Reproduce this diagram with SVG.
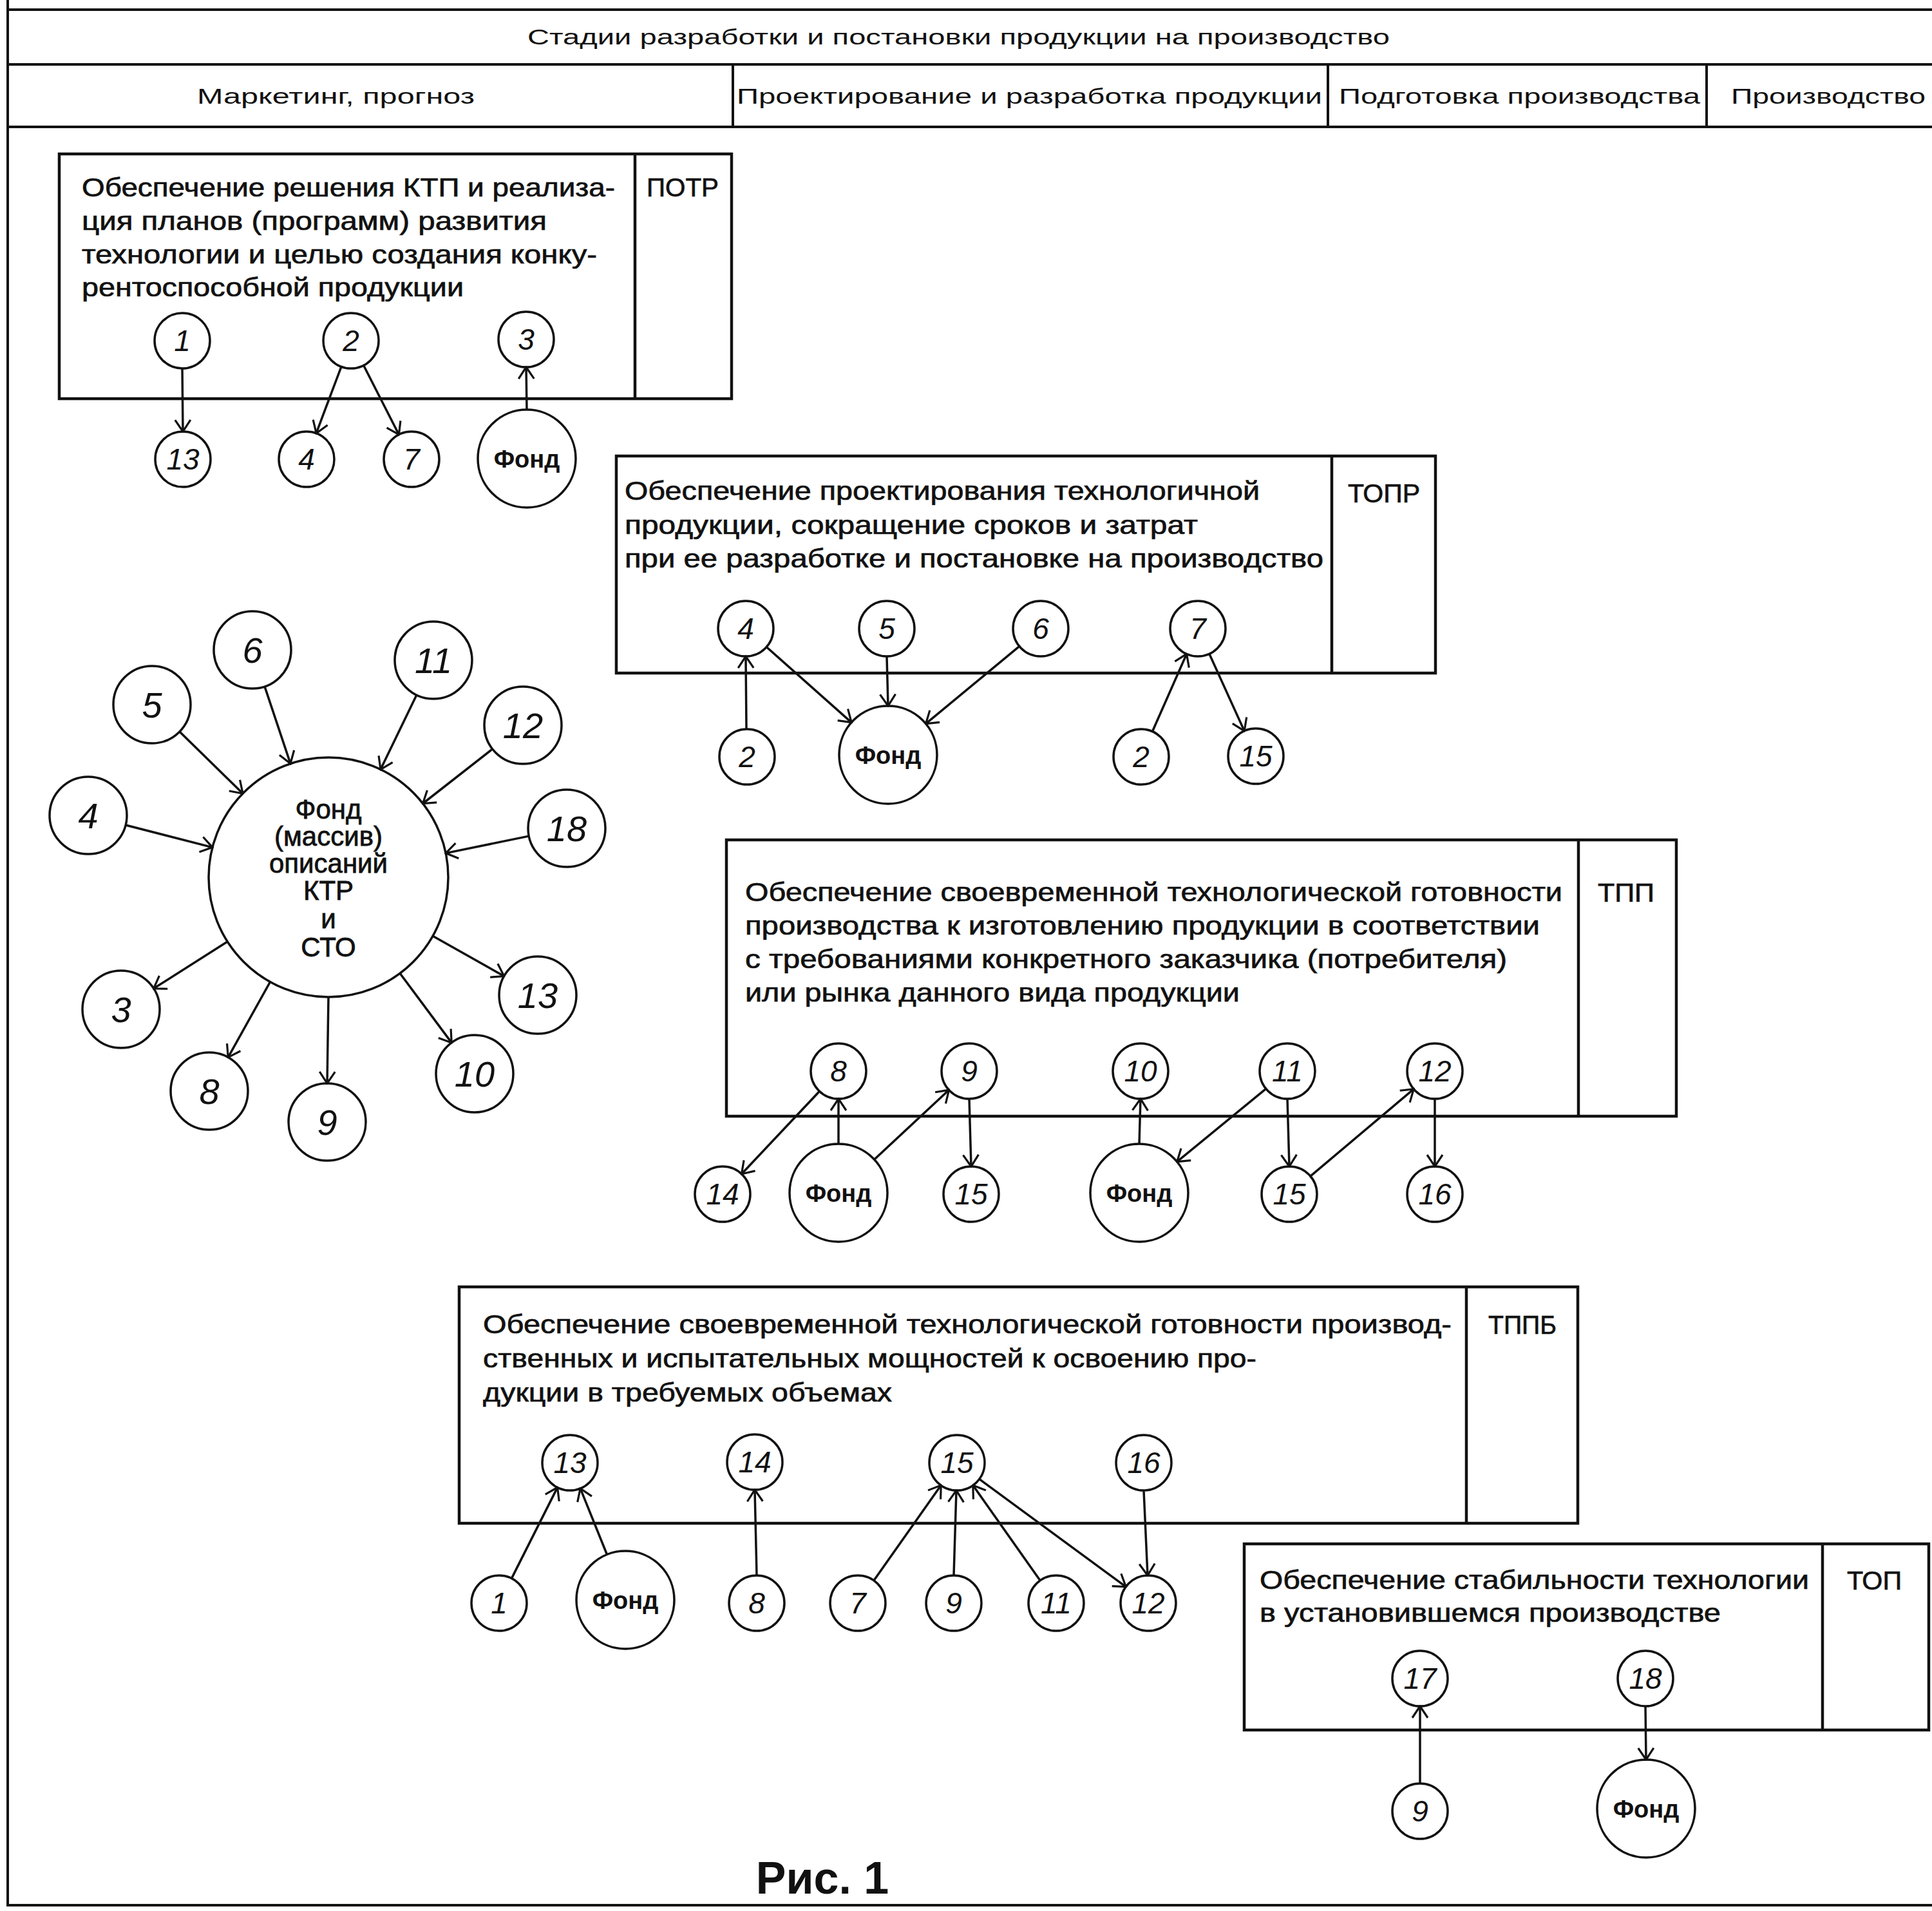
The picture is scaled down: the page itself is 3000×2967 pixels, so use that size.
<svg xmlns="http://www.w3.org/2000/svg" width="3000" height="2967" viewBox="0 0 3000 2967">
<defs>
<style>
.fr{stroke:#111;stroke-width:4;fill:none}
.bx{stroke:#111;stroke-width:4.5;fill:none}
.nd{stroke:#111;stroke-width:3.5;fill:#fff}
.ln{stroke:#111;stroke-width:3.5;fill:none}
.t{font-family:"Liberation Sans",Arial,sans-serif;font-size:40px;fill:#111;stroke:#111;stroke-width:0.7}
.h{font-family:"Liberation Sans",Arial,sans-serif;font-size:34px;fill:#111}
.lb{font-family:"Liberation Sans",Arial,sans-serif;font-size:40px;fill:#111;stroke:#111;stroke-width:0.7}
.n{font-family:"Liberation Sans",Arial,sans-serif;font-style:italic;font-size:46px;text-anchor:middle;fill:#111}
.ns{font-family:"Liberation Sans",Arial,sans-serif;font-style:italic;font-size:56px;text-anchor:middle;fill:#111}
.f{font-family:"Liberation Sans",Arial,sans-serif;font-weight:bold;font-size:38px;text-anchor:middle;fill:#111}
.bf{font-family:"Liberation Sans",Arial,sans-serif;font-size:42px;text-anchor:middle;fill:#111;stroke:#111;stroke-width:0.8}
</style>
<marker id="arr" viewBox="0 0 14 14" refX="13" refY="7" markerWidth="28" markerHeight="28" markerUnits="userSpaceOnUse" orient="auto">
<path d="M4,1 L13,7 L4,13" fill="none" stroke="#111" stroke-width="1.6"/>
</marker>
</defs>
<rect width="3000" height="2967" fill="#fff"/>

<g id="frame">
<line class="fr" x1="12" y1="0" x2="12" y2="2960"/>
<line class="fr" x1="12" y1="15" x2="3000" y2="15"/>
<line class="fr" x1="12" y1="100" x2="3000" y2="100"/>
<line class="fr" x1="12" y1="197" x2="3000" y2="197"/>
<line class="fr" x1="1138" y1="100" x2="1138" y2="197"/>
<line class="fr" x1="2062" y1="100" x2="2062" y2="197"/>
<line class="fr" x1="2650" y1="100" x2="2650" y2="197"/>
<line class="fr" x1="12" y1="2958" x2="3000" y2="2958"/>
<text class="h" x="819" y="69" textLength="1339" lengthAdjust="spacingAndGlyphs">Стадии разработки и постановки продукции на производство</text>
<text class="h" x="306" y="161" textLength="431" lengthAdjust="spacingAndGlyphs">Маркетинг, прогноз</text>
<text class="h" x="1144" y="161" textLength="909" lengthAdjust="spacingAndGlyphs">Проектирование и разработка продукции</text>
<text class="h" x="2079" y="161" textLength="561" lengthAdjust="spacingAndGlyphs">Подготовка производства</text>
<text class="h" x="2688" y="161" textLength="302" lengthAdjust="spacingAndGlyphs">Производство</text>
</g>

<g id="box-POTR">
<rect class="bx" x="92" y="239" width="1044" height="380"/>
<line class="bx" x1="986" y1="239" x2="986" y2="619"/>
<text class="lb" x="1004" y="305" textLength="112" lengthAdjust="spacingAndGlyphs">ПОТР</text>
<text class="t" x="127" y="305" textLength="828" lengthAdjust="spacingAndGlyphs">Обеспечение решения КТП и реализа-</text>
<text class="t" x="127" y="357" textLength="722" lengthAdjust="spacingAndGlyphs">ция планов (программ) развития</text>
<text class="t" x="127" y="409" textLength="800" lengthAdjust="spacingAndGlyphs">технологии и целью создания конку-</text>
<text class="t" x="127" y="460" textLength="593" lengthAdjust="spacingAndGlyphs">рентоспособной продукции</text>
</g>
<g id="p1-n1"><circle class="nd" cx="283" cy="529" r="43"/><text class="n" x="283" y="545">1</text></g>
<g id="p1-n2"><circle class="nd" cx="545" cy="529" r="43"/><text class="n" x="545" y="545">2</text></g>
<g id="p1-n3"><circle class="nd" cx="817" cy="527" r="43"/><text class="n" x="817" y="543">3</text></g>
<g id="p1-n13"><circle class="nd" cx="284" cy="713" r="43"/><text class="n" x="284" y="729">13</text></g>
<g id="p1-n4"><circle class="nd" cx="476" cy="713" r="43"/><text class="n" x="476" y="729">4</text></g>
<g id="p1-n7"><circle class="nd" cx="639" cy="713" r="43"/><text class="n" x="639" y="729">7</text></g>
<g id="p1-fond"><circle class="nd" cx="818" cy="712" r="76"/><text class="f" x="818" y="726">Фонд</text></g>

<g id="box-TOPR">
<rect class="bx" x="957" y="708" width="1272" height="337"/>
<line class="bx" x1="2068" y1="708" x2="2068" y2="1045"/>
<text class="lb" x="2093" y="780" textLength="112" lengthAdjust="spacingAndGlyphs">ТОПР</text>
<text class="t" x="970" y="776" textLength="986" lengthAdjust="spacingAndGlyphs">Обеспечение проектирования технологичной</text>
<text class="t" x="970" y="829" textLength="890" lengthAdjust="spacingAndGlyphs">продукции, сокращение сроков и затрат</text>
<text class="t" x="970" y="881" textLength="1085" lengthAdjust="spacingAndGlyphs">при ее разработке и постановке на производство</text>
</g>
<g id="p2-n4"><circle class="nd" cx="1158" cy="976" r="43"/><text class="n" x="1158" y="992">4</text></g>
<g id="p2-n5"><circle class="nd" cx="1377" cy="976" r="43"/><text class="n" x="1377" y="992">5</text></g>
<g id="p2-n6"><circle class="nd" cx="1616" cy="976" r="43"/><text class="n" x="1616" y="992">6</text></g>
<g id="p2-n7"><circle class="nd" cx="1860" cy="976" r="43"/><text class="n" x="1860" y="992">7</text></g>
<g id="p2-n2a"><circle class="nd" cx="1160" cy="1175" r="43"/><text class="n" x="1160" y="1191">2</text></g>
<g id="p2-fond"><circle class="nd" cx="1379" cy="1172" r="76"/><text class="f" x="1379" y="1186">Фонд</text></g>
<g id="p2-n2b"><circle class="nd" cx="1772" cy="1175" r="43"/><text class="n" x="1772" y="1191">2</text></g>
<g id="p2-n15"><circle class="nd" cx="1950" cy="1174" r="43"/><text class="n" x="1950" y="1190">15</text></g>

<g id="fond-main">
<circle class="nd" cx="510" cy="1362" r="186"/>
<text class="bf" x="510" y="1271">Фонд</text>
<text class="bf" x="510" y="1313">(массив)</text>
<text class="bf" x="510" y="1355">описаний</text>
<text class="bf" x="510" y="1397">КТР</text>
<text class="bf" x="510" y="1441">и</text>
<text class="bf" x="510" y="1485">СТО</text>
</g>
<g id="s-n6"><circle class="nd" cx="392" cy="1009" r="60"/><text class="ns" x="392" y="1029">6</text></g>
<g id="s-n11"><circle class="nd" cx="673" cy="1025" r="60"/><text class="ns" x="673" y="1045">11</text></g>
<g id="s-n5"><circle class="nd" cx="236" cy="1094" r="60"/><text class="ns" x="236" y="1114">5</text></g>
<g id="s-n12"><circle class="nd" cx="812" cy="1126" r="60"/><text class="ns" x="812" y="1146">12</text></g>
<g id="s-n4"><circle class="nd" cx="137" cy="1266" r="60"/><text class="ns" x="137" y="1286">4</text></g>
<g id="s-n18"><circle class="nd" cx="880" cy="1286" r="60"/><text class="ns" x="880" y="1306">18</text></g>
<g id="s-n3"><circle class="nd" cx="188" cy="1567" r="60"/><text class="ns" x="188" y="1587">3</text></g>
<g id="s-n13"><circle class="nd" cx="835" cy="1545" r="60"/><text class="ns" x="835" y="1565">13</text></g>
<g id="s-n8"><circle class="nd" cx="325" cy="1694" r="60"/><text class="ns" x="325" y="1714">8</text></g>
<g id="s-n9"><circle class="nd" cx="508" cy="1742" r="60"/><text class="ns" x="508" y="1762">9</text></g>
<g id="s-n10"><circle class="nd" cx="737" cy="1667" r="60"/><text class="ns" x="737" y="1687">10</text></g>

<g id="box-TPP">
<rect class="bx" x="1128" y="1304" width="1475" height="429"/>
<line class="bx" x1="2451" y1="1304" x2="2451" y2="1733"/>
<text class="lb" x="2481" y="1400" textLength="88" lengthAdjust="spacingAndGlyphs">ТПП</text>
<text class="t" x="1157" y="1399" textLength="1269" lengthAdjust="spacingAndGlyphs">Обеспечение своевременной технологической готовности</text>
<text class="t" x="1157" y="1451" textLength="1234" lengthAdjust="spacingAndGlyphs">производства к изготовлению продукции в соответствии</text>
<text class="t" x="1157" y="1503" textLength="1183" lengthAdjust="spacingAndGlyphs">с требованиями конкретного заказчика (потребителя)</text>
<text class="t" x="1157" y="1555" textLength="768" lengthAdjust="spacingAndGlyphs">или рынка данного вида продукции</text>
</g>
<g id="p3-n8"><circle class="nd" cx="1302" cy="1663" r="43"/><text class="n" x="1302" y="1679">8</text></g>
<g id="p3-n9"><circle class="nd" cx="1505" cy="1663" r="43"/><text class="n" x="1505" y="1679">9</text></g>
<g id="p3-n10"><circle class="nd" cx="1771" cy="1663" r="43"/><text class="n" x="1771" y="1679">10</text></g>
<g id="p3-n11"><circle class="nd" cx="1999" cy="1663" r="43"/><text class="n" x="1999" y="1679">11</text></g>
<g id="p3-n12"><circle class="nd" cx="2228" cy="1663" r="43"/><text class="n" x="2228" y="1679">12</text></g>
<g id="p3-n14"><circle class="nd" cx="1122" cy="1854" r="43"/><text class="n" x="1122" y="1870">14</text></g>
<g id="p3-fond1"><circle class="nd" cx="1302" cy="1852" r="76"/><text class="f" x="1302" y="1866">Фонд</text></g>
<g id="p3-n15a"><circle class="nd" cx="1508" cy="1854" r="43"/><text class="n" x="1508" y="1870">15</text></g>
<g id="p3-fond2"><circle class="nd" cx="1769" cy="1852" r="76"/><text class="f" x="1769" y="1866">Фонд</text></g>
<g id="p3-n15b"><circle class="nd" cx="2002" cy="1854" r="43"/><text class="n" x="2002" y="1870">15</text></g>
<g id="p3-n16"><circle class="nd" cx="2228" cy="1854" r="43"/><text class="n" x="2228" y="1870">16</text></g>

<g id="box-TPPB">
<rect class="bx" x="713" y="1998" width="1737" height="367"/>
<line class="bx" x1="2277" y1="1998" x2="2277" y2="2365"/>
<text class="lb" x="2311" y="2071" textLength="106" lengthAdjust="spacingAndGlyphs">ТППБ</text>
<text class="t" x="750" y="2070" textLength="1504" lengthAdjust="spacingAndGlyphs">Обеспечение своевременной технологической готовности производ-</text>
<text class="t" x="750" y="2123" textLength="1201" lengthAdjust="spacingAndGlyphs">ственных и испытательных мощностей к освоению про-</text>
<text class="t" x="750" y="2176" textLength="635" lengthAdjust="spacingAndGlyphs">дукции в требуемых объемах</text>
</g>
<g id="p4-n13"><circle class="nd" cx="885" cy="2271" r="43"/><text class="n" x="885" y="2287">13</text></g>
<g id="p4-n14"><circle class="nd" cx="1172" cy="2270" r="43"/><text class="n" x="1172" y="2286">14</text></g>
<g id="p4-n15"><circle class="nd" cx="1486" cy="2271" r="43"/><text class="n" x="1486" y="2287">15</text></g>
<g id="p4-n16"><circle class="nd" cx="1776" cy="2271" r="43"/><text class="n" x="1776" y="2287">16</text></g>
<g id="p4-n1"><circle class="nd" cx="775" cy="2489" r="43"/><text class="n" x="775" y="2505">1</text></g>
<g id="p4-fond"><circle class="nd" cx="971" cy="2484" r="76"/><text class="f" x="971" y="2498">Фонд</text></g>
<g id="p4-n8"><circle class="nd" cx="1175" cy="2489" r="43"/><text class="n" x="1175" y="2505">8</text></g>
<g id="p4-n7"><circle class="nd" cx="1332" cy="2489" r="43"/><text class="n" x="1332" y="2505">7</text></g>
<g id="p4-n9"><circle class="nd" cx="1481" cy="2489" r="43"/><text class="n" x="1481" y="2505">9</text></g>
<g id="p4-n11"><circle class="nd" cx="1640" cy="2489" r="43"/><text class="n" x="1640" y="2505">11</text></g>
<g id="p4-n12"><circle class="nd" cx="1783" cy="2489" r="43"/><text class="n" x="1783" y="2505">12</text></g>

<g id="box-TOP">
<rect class="bx" x="1932" y="2397" width="1063" height="289"/>
<line class="bx" x1="2830" y1="2397" x2="2830" y2="2686"/>
<text class="lb" x="2868" y="2468" textLength="85" lengthAdjust="spacingAndGlyphs">ТОП</text>
<text class="t" x="1956" y="2467" textLength="853" lengthAdjust="spacingAndGlyphs">Обеспечение стабильности технологии</text>
<text class="t" x="1956" y="2518" textLength="716" lengthAdjust="spacingAndGlyphs">в установившемся производстве</text>
</g>
<g id="p5-n17"><circle class="nd" cx="2205" cy="2606" r="43"/><text class="n" x="2205" y="2622">17</text></g>
<g id="p5-n18"><circle class="nd" cx="2555" cy="2606" r="43"/><text class="n" x="2555" y="2622">18</text></g>
<g id="p5-n9"><circle class="nd" cx="2205" cy="2812" r="43"/><text class="n" x="2205" y="2828">9</text></g>
<g id="p5-fond"><circle class="nd" cx="2556" cy="2808" r="76"/><text class="f" x="2556" y="2822">Фонд</text></g>

<g id="connectors">
<line class="ln" x1="283" y1="572" x2="284" y2="670" marker-end="url(#arr)"/>
<line class="ln" x1="529.9" y1="569.3" x2="491.1" y2="672.7" marker-end="url(#arr)"/>
<line class="ln" x1="564.6" y1="567.3" x2="619.4" y2="674.7" marker-end="url(#arr)"/>
<line class="ln" x1="818" y1="636" x2="817" y2="570" marker-end="url(#arr)"/>

<line class="ln" x1="1159" y1="1132" x2="1158" y2="1019" marker-end="url(#arr)"/>
<line class="ln" x1="1190.2" y1="1004.5" x2="1322.1" y2="1121.6" marker-end="url(#arr)"/>
<line class="ln" x1="1377" y1="1019" x2="1379" y2="1096" marker-end="url(#arr)"/>
<line class="ln" x1="1582.9" y1="1003.4" x2="1437.6" y2="1123.6" marker-end="url(#arr)"/>
<line class="ln" x1="1789.4" y1="1135.7" x2="1842.6" y2="1015.3" marker-end="url(#arr)"/>
<line class="ln" x1="1877.8" y1="1015.1" x2="1932.2" y2="1134.9" marker-end="url(#arr)"/>

<line class="ln" x1="411" y1="1065.9" x2="451" y2="1185.6" marker-end="url(#arr)"/>
<line class="ln" x1="646.9" y1="1079" x2="591" y2="1194.6" marker-end="url(#arr)"/>
<line class="ln" x1="278.9" y1="1136" x2="377" y2="1232" marker-end="url(#arr)"/>
<line class="ln" x1="764.7" y1="1162.9" x2="656.6" y2="1247.5" marker-end="url(#arr)"/>
<line class="ln" x1="195.1" y1="1281" x2="329.9" y2="1315.6" marker-end="url(#arr)"/>
<line class="ln" x1="821.2" y1="1298.1" x2="692.2" y2="1324.6" marker-end="url(#arr)"/>
<line class="ln" x1="353.1" y1="1461.9" x2="238.6" y2="1534.8" marker-end="url(#arr)"/>
<line class="ln" x1="672.1" y1="1453.3" x2="782.7" y2="1515.6" marker-end="url(#arr)"/>
<line class="ln" x1="419.5" y1="1524.5" x2="354.2" y2="1641.6" marker-end="url(#arr)"/>
<line class="ln" x1="510" y1="1548" x2="508" y2="1682" marker-end="url(#arr)"/>
<line class="ln" x1="621.1" y1="1511.2" x2="701.2" y2="1618.9" marker-end="url(#arr)"/>

<line class="ln" x1="1272.5" y1="1694.3" x2="1151.5" y2="1822.7" marker-end="url(#arr)"/>
<line class="ln" x1="1302" y1="1776" x2="1302" y2="1706" marker-end="url(#arr)"/>
<line class="ln" x1="1357.6" y1="1800.2" x2="1473.5" y2="1692.3" marker-end="url(#arr)"/>
<line class="ln" x1="1505" y1="1706" x2="1508" y2="1811" marker-end="url(#arr)"/>
<line class="ln" x1="1769" y1="1776" x2="1771" y2="1706" marker-end="url(#arr)"/>
<line class="ln" x1="1965.8" y1="1690.3" x2="1827.7" y2="1803.7" marker-end="url(#arr)"/>
<line class="ln" x1="1999" y1="1706" x2="2002" y2="1811" marker-end="url(#arr)"/>
<line class="ln" x1="2034.8" y1="1826.2" x2="2195.2" y2="1690.8" marker-end="url(#arr)"/>
<line class="ln" x1="2228" y1="1706" x2="2228" y2="1811" marker-end="url(#arr)"/>

<line class="ln" x1="794.4" y1="2450.6" x2="865.6" y2="2309.4" marker-end="url(#arr)"/>
<line class="ln" x1="942.5" y1="2413.5" x2="901.1" y2="2310.9" marker-end="url(#arr)"/>
<line class="ln" x1="1175" y1="2446" x2="1172" y2="2313" marker-end="url(#arr)"/>
<line class="ln" x1="1356.8" y1="2453.9" x2="1461.2" y2="2306.1" marker-end="url(#arr)"/>
<line class="ln" x1="1481" y1="2446" x2="1485" y2="2314" marker-end="url(#arr)"/>
<line class="ln" x1="1615.2" y1="2453.9" x2="1510.8" y2="2306.1" marker-end="url(#arr)"/>
<line class="ln" x1="1520.7" y1="2296.4" x2="1748.3" y2="2463.6" marker-end="url(#arr)"/>
<line class="ln" x1="1776" y1="2314" x2="1782" y2="2446" marker-end="url(#arr)"/>

<line class="ln" x1="2205" y1="2769" x2="2205" y2="2649" marker-end="url(#arr)"/>
<line class="ln" x1="2555" y1="2649" x2="2556" y2="2732" marker-end="url(#arr)"/>
</g>

<g id="caption">
<text x="1277" y="2940" font-family="Liberation Sans, Arial, sans-serif" font-weight="bold" font-size="70" text-anchor="middle" fill="#111">Рис. 1</text>
</g>
</svg>
